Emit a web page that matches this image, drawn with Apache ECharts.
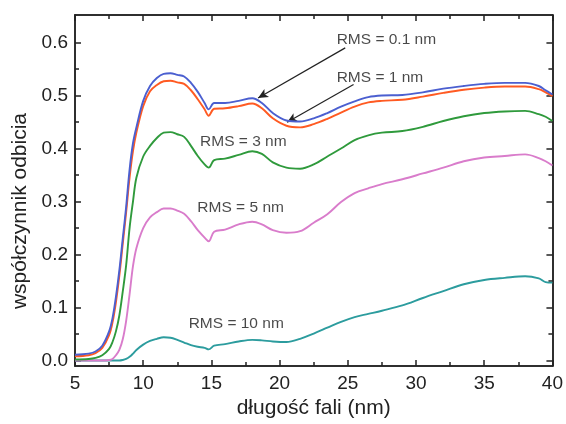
<!DOCTYPE html>
<html>
<head>
<meta charset="utf-8">
<script src="https://cdn.jsdelivr.net/npm/echarts@6/dist/echarts.min.js"></script>
<style>
  html, body { margin: 0; padding: 0; background: #fff; }
  #chart { width: 566px; height: 424px; }
</style>
</head>
<body>
<div id="chart"></div>
<script>
// wavelength (nm)
const xs = [5, 6, 6.5, 7, 7.5, 7.75, 8, 8.25, 8.5, 8.75, 9, 9.25, 9.5, 10, 10.5, 11, 11.5, 12, 12.5, 13, 13.5, 14, 14.5, 14.8, 15.2, 16, 17, 18, 18.7, 19.5, 20.5, 21.5, 22.5, 23.5, 24.5, 25.5, 26.5, 27.5, 29, 30.5, 32, 33.5, 35, 36.5, 38, 39, 39.5, 40];

const rms01 = [0.011, 0.013, 0.017, 0.028, 0.055, 0.08, 0.12, 0.17, 0.23, 0.29, 0.36, 0.41, 0.44, 0.49, 0.518, 0.533, 0.541, 0.542, 0.539, 0.536, 0.524, 0.507, 0.486, 0.474, 0.486, 0.486, 0.49, 0.495, 0.486, 0.467, 0.453, 0.451, 0.457, 0.467, 0.479, 0.489, 0.497, 0.5, 0.501, 0.506, 0.513, 0.518, 0.522, 0.524, 0.524, 0.518, 0.51, 0.502];
const rms1 = [0.008, 0.01, 0.014, 0.024, 0.048, 0.072, 0.11, 0.16, 0.22, 0.28, 0.345, 0.395, 0.43, 0.48, 0.508, 0.52, 0.527, 0.528, 0.525, 0.522, 0.51, 0.493, 0.474, 0.462, 0.475, 0.476, 0.48, 0.485, 0.476, 0.457, 0.443, 0.44, 0.446, 0.456, 0.468, 0.479, 0.487, 0.49, 0.492, 0.498, 0.505, 0.511, 0.515, 0.517, 0.517, 0.512, 0.506, 0.499];
const rms3 = [0.002, 0.003, 0.005, 0.01, 0.022, 0.035, 0.055, 0.085, 0.13, 0.18, 0.25, 0.3, 0.345, 0.385, 0.405, 0.42, 0.43, 0.431, 0.427, 0.422, 0.405, 0.386, 0.37, 0.364, 0.378, 0.381, 0.388, 0.395, 0.39, 0.374, 0.364, 0.362, 0.37, 0.385, 0.4, 0.416, 0.425, 0.43, 0.433, 0.441, 0.452, 0.461, 0.467, 0.47, 0.471, 0.465, 0.46, 0.452];
const rms5 = [0, 0, 0, 0, 0.001, 0.003, 0.01, 0.02, 0.04, 0.075, 0.125, 0.178, 0.212, 0.25, 0.27, 0.28, 0.287, 0.287, 0.283, 0.277, 0.263, 0.246, 0.232, 0.225, 0.243, 0.247, 0.257, 0.262, 0.257, 0.246, 0.241, 0.244, 0.26, 0.276, 0.299, 0.316, 0.325, 0.333, 0.342, 0.353, 0.364, 0.376, 0.383, 0.386, 0.389, 0.382, 0.376, 0.368];
const rms10 = [0, 0, 0, 0, 0, 0, 0, 0, 0.001, 0.003, 0.007, 0.013, 0.02, 0.03, 0.037, 0.041, 0.044, 0.043, 0.039, 0.034, 0.029, 0.026, 0.024, 0.021, 0.028, 0.031, 0.036, 0.039, 0.038, 0.036, 0.035, 0.041, 0.051, 0.062, 0.073, 0.082, 0.088, 0.094, 0.104, 0.118, 0.131, 0.144, 0.152, 0.156, 0.159, 0.155, 0.148, 0.147];

const xTicks = [5, 10, 15, 20, 25, 30, 35, 40];
const xMinorTicks = [7.5, 12.5, 17.5, 22.5, 27.5, 32.5, 37.5];
const yTicks = [0, 0.1, 0.2, 0.3, 0.4, 0.5, 0.6];
const yMinorTicks = [0.05, 0.15, 0.25, 0.35, 0.45, 0.55];

// annotations
const labelText = ['RMS = 0.1 nm', 'RMS = 1 nm', 'RMS = 3 nm', 'RMS = 5 nm', 'RMS = 10 nm'];
const labelX = [24.18, 24.18, 14.17, 13.97, 13.33];
const labelY = [0.605, 0.534, 0.413, 0.289, 0.07];
const arrowFrom = [[24.81, 0.59], [25.42, 0.521]];
const arrowTo = [[18.42, 0.4955], [20.55, 0.4496]];

const font = 'Liberation Sans, Arial, sans-serif';
const axisColor = '#222';

const names = ['RMS = 0.1 nm', 'RMS = 1 nm', 'RMS = 3 nm', 'RMS = 5 nm', 'RMS = 10 nm'];
const values = [rms01, rms1, rms3, rms5, rms10];
const colors = ['#4b5fd0', '#ff5a22', '#2f9a3c', '#d97ccb', '#2c9c9e'];

const yMin = -0.0105, yMax = 0.652;

function xAxisOpt(pos, ticks, len, labels) {
  return {
    type: 'value', position: pos, min: 5, max: 40,
    axisLine: { show: true, onZero: false, lineStyle: { color: axisColor, width: 1.5 } },
    axisTick: { show: true, inside: true, length: len, customValues: ticks, lineStyle: { color: axisColor, width: 1.5 } },
    axisLabel: { show: labels, margin: 8, fontSize: 19, color: axisColor, fontFamily: font, customValues: xTicks },
    splitLine: { show: false }
  };
}

function yAxisOpt(pos, ticks, len, labels) {
  return {
    type: 'value', position: pos, min: yMin, max: yMax,
    axisLine: { show: true, onZero: false, lineStyle: { color: axisColor, width: 1.5 } },
    axisTick: { show: true, inside: true, length: len, customValues: ticks, lineStyle: { color: axisColor, width: 1.5 } },
    axisLabel: {
      show: labels, margin: 7, fontSize: 19, color: axisColor, fontFamily: font,
      customValues: yTicks, formatter: v => v.toFixed(1)
    },
    splitLine: { show: false }
  };
}

const series = values.map((v, i) => ({
  name: names[i],
  type: 'line',
  data: xs.map((x, j) => [x, v[j]]),
  smooth: 0.35,
  showSymbol: false,
  lineStyle: { color: colors[i], width: 1.9 },
  z: 5 - i
}));

series.push({
  type: 'scatter',
  symbolSize: 0,
  data: labelText.map((t, i) => ({ name: t, value: [labelX[i], labelY[i]] })),
  label: {
    show: true, position: 'right', distance: 0, formatter: p => p.name,
    fontSize: 15.5, color: '#1a1a1a', fontFamily: font
  },
  markLine: {
    silent: true,
    symbol: ['none', 'arrow'],
    symbolSize: [7, 10],
    label: { show: false },
    lineStyle: { color: '#222', width: 1.2, type: 'solid' },
    data: arrowFrom.map((a, i) => [{ coord: a }, { coord: arrowTo[i] }])
  },
  z: 10
});

const chart = echarts.init(document.getElementById('chart'));
chart.setOption({
  backgroundColor: '#fff',
  animation: false,
  grid: { left: 75, right: 11, top: 15, bottom: 54, containLabel: false },
  xAxis: [
    Object.assign(xAxisOpt('bottom', xTicks, 6, true), {
      name: 'długość fali (nm)', nameLocation: 'middle', nameGap: 30,
      nameTextStyle: { fontSize: 21, color: axisColor, fontFamily: font }
    }),
    xAxisOpt('bottom', xMinorTicks, 4, false),
    xAxisOpt('top', xTicks, 6, false),
    xAxisOpt('top', xMinorTicks, 4, false)
  ],
  yAxis: [
    yAxisOpt('left', yTicks, 6, true),
    yAxisOpt('left', yMinorTicks, 4, false),
    yAxisOpt('right', yTicks, 6, false),
    yAxisOpt('right', yMinorTicks, 4, false)
  ],
  graphic: [{
    type: 'text',
    x: 20, y: 211,
    rotation: Math.PI / 2,
    style: {
      text: 'współczynnik odbicia',
      fontSize: 21, fontFamily: font, fill: axisColor,
      align: 'center', verticalAlign: 'middle'
    }
  }],
  series
});
</script>
</body>
</html>
